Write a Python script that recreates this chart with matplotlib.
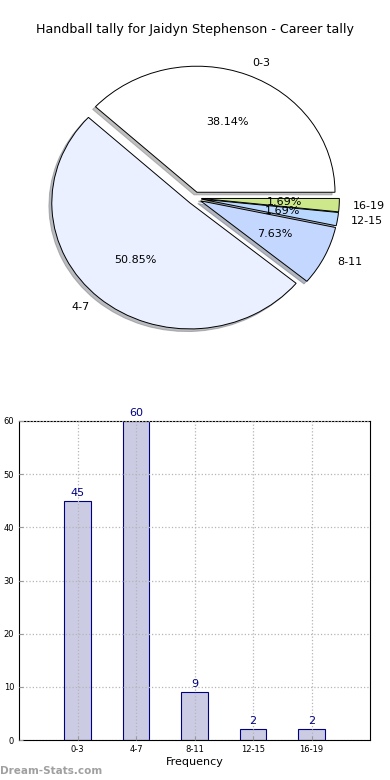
import matplotlib
matplotlib.use('Agg')
import matplotlib.pyplot as plt

labels = ['0-3', '4-7', '8-11', '12-15', '16-19']
counts = [45, 60, 9, 2, 2]
pie_colors = ['#ffffff', '#eaf0ff', '#c4d8ff', '#b8d8ff', '#cce88a']

fig = plt.figure(figsize=(3.9, 7.8), dpi=100)

# pie
ax1 = fig.add_axes([0.056, 0.544, 0.885, 0.404])
wedges, texts, autotexts = ax1.pie(
    counts, labels=labels, colors=pie_colors, autopct='%1.2f%%',
    explode=[0.05] * len(counts), startangle=0,
    shadow={'ox': -0.015, 'oy': -0.015, 'shade': 0.5},
    wedgeprops={'edgecolor': 'black', 'linewidth': 0.7},
    textprops={'fontsize': 8})
ax1.set_aspect('auto')
ax1.set_xlim(-1.25, 1.25)
ax1.set_ylim(-1.25, 1.25)
fig.text(0.5, 1 - 30 / 780, 'Handball tally for Jaidyn Stephenson - Career tally',
         ha='center', va='center', fontsize=9.1)

# bars
ax2 = fig.add_axes([19 / 390, 40 / 780, 351 / 390, 319 / 780])
x = list(range(len(counts)))
ax2.bar(x, counts, width=0.45, color='#cbcbe4', edgecolor='#000080', linewidth=0.8)
for xi, c in zip(x, counts):
    ax2.text(xi, c + 0.6, str(c), ha='center', va='bottom', color='#000080', fontsize=8)
ax2.set_xlim(-1, 5)
ax2.set_ylim(0, 60)
ax2.set_xticks(x)
ax2.set_xticklabels(labels)
ax2.set_yticks(range(0, 61, 10))
ax2.tick_params(labelsize=6, length=3, color='#999999', direction='in')
ax2.grid(True, linestyle=':', color='#b5b5b5', linewidth=0.9)
ax2.set_axisbelow(False)
ax2.set_xlabel('Frequency', fontsize=8, labelpad=2)

fig.text(0.0, 4 / 780, 'Dream-Stats.com', fontsize=7.5, color='#a0a0a0',
         fontweight='semibold', ha='left', va='bottom')

fig.savefig('out.png', dpi=100)
